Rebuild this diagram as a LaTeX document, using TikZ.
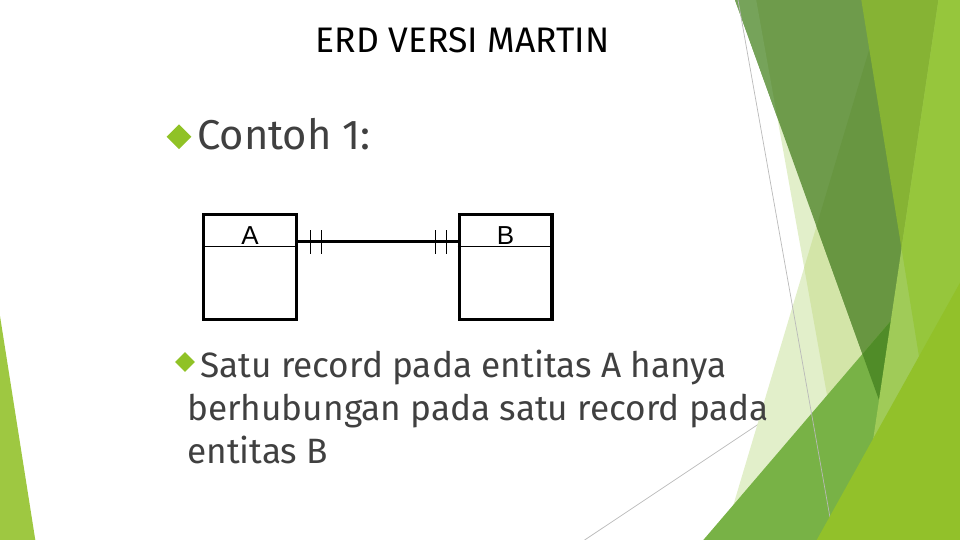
\documentclass[tikz,border=0pt]{standalone}
\usepackage{fontspec}
\setmainfont{Fira Sans}
\newfontfamily\arialfont{Liberation Sans}
\usetikzlibrary{shapes.geometric,calc}
\definecolor{txt}{RGB}{64,64,64}
\definecolor{accentone}{RGB}{144,194,38}
\definecolor{pale}{RGB}{226,239,202}
\definecolor{paleboth}{RGB}{211,229,168}
\definecolor{dlight}{RGB}{118,163,90}
\definecolor{dmain}{RGB}{110,155,75}
\definecolor{ddark}{RGB}{104,150,65}
\definecolor{tipdark}{RGB}{80,140,40}
\definecolor{band}{RGB}{120,178,70}
\definecolor{rtwonine}{RGB}{134,179,52}
\definecolor{rtwoeight}{RGB}{160,203,88}
\definecolor{rboth}{RGB}{150,198,60}
\definecolor{tten}{RGB}{146,193,42}
\definecolor{lefttri}{RGB}{158,200,65}
\definecolor{thinline}{RGB}{185,185,185}
\begin{document}
\begin{tikzpicture}[x=1pt,y=-1pt,
  titletext/.style={anchor=base,inner sep=0pt,text=black,font=\fontsize{35.5}{42}\selectfont},
  headtext/.style={anchor=base west,inner sep=0pt,text=txt,font=\fontsize{41.7}{50}\selectfont},
  bodytext/.style={anchor=base west,inner sep=0pt,text=txt,font=\fontsize{35.2}{43}\selectfont},
  bulletmark/.style={diamond,aspect=1,fill=accentone,inner sep=0pt,draw=none},
  entity/.style={draw=black,line width=3.3pt,minimum width=92.7pt,minimum height=104.8pt,inner sep=0pt},
  entlabel/.style={inner sep=0pt,font=\arialfont\fontsize{26}{30}\selectfont},
  divider/.style={draw=black,line width=1pt},
  relline/.style={draw=black,line width=2.7pt},
  tick/.style={draw=black,line width=1.2pt},
  deco/.style={draw=thinline,line width=0.7pt}
]
\useasboundingbox (0,0) rectangle (960,540);
% ---- decorative facets ----
\draw[deco] (584.6,540) -- (960,289.9);
\fill[pale] (756.2,0) -- (960,0) -- (960,540) -- (853,540) -- cycle;
\fill[pale] (884,0) -- (960,0) -- (960,540) -- (722.9,540) -- cycle;
\begin{scope}
  \clip (884,0) -- (960,0) -- (960,540) -- (722.9,540) -- cycle;
  \fill[paleboth] (756.2,0) -- (960,0) -- (960,540) -- (853,540) -- cycle;
\end{scope}
\fill[dmain] (735,0) -- (960,0) -- (960,540) -- (929.4,540) -- cycle;
\begin{scope}
  \clip (735,0) -- (960,0) -- (960,540) -- (929.4,540) -- cycle;
  \fill[dlight] (700,0) -- (756.2,0) -- (853,540) -- (700,540) -- cycle;
  \clip (884,0) -- (960,0) -- (960,540) -- (722.9,540) -- cycle;
  \fill[ddark] (756.2,0) -- (960,0) -- (960,540) -- (853,540) -- cycle;
\end{scope}
\fill[band] (703.3,540) -- (960,240) -- (960,540) -- cycle;
\begin{scope}
  \clip (703.3,540) -- (960,240) -- (960,540) -- cycle;
  \fill[tipdark] (735,0) -- (960,0) -- (960,540) -- (929.4,540) -- cycle;
\end{scope}
\draw[deco] (738,0) -- (834,540);
\fill[rtwonine] (861.3,0) -- (960,0) -- (960,540) -- (948.7,540) -- cycle;
\fill[rtwoeight] (938.5,0) -- (960,0) -- (960,540) -- (858.2,540) -- cycle;
\begin{scope}
  \clip (938.5,0) -- (960,0) -- (960,540) -- (858.2,540) -- cycle;
  \fill[rboth] (861.3,0) -- (960,0) -- (960,540) -- (948.7,540) -- cycle;
\end{scope}
\fill[tten] (816.7,540) -- (960,282.7) -- (960,540) -- cycle;
\fill[lefttri] (0,316) -- (35.3,540) -- (0,540) -- cycle;
% ---- title ----
\node[titletext] (title) at (462.5,53) {ERD VERSI MARTIN};
% ---- first bullet ----
\node[bulletmark,minimum size=25pt] (b1) at (179,136.7) {};
\node[headtext] (contoh) at (197,149.3) {Contoh 1:};
% ---- ERD ----
\node[entity] (A) at (250,267) {};
\node[entity] (B) at (505.5,267) {};
\draw[divider] ([yshift=-33.6pt]A.north west) -- ([yshift=-33.6pt]A.north east);
\draw[divider] ([yshift=-33.6pt]B.north west) -- ([yshift=-33.6pt]B.north east);
\node[entlabel] (la) at (250,236) {A};
\node[entlabel] (lb) at (505.5,236) {B};
\coordinate (ca) at ([yshift=25.5pt]A.east);
\coordinate (cb) at ([yshift=25.5pt]B.west);
\draw[relline] (ca) -- (cb);
\draw[tick] ($(ca)+(12.5,-11.5)$) -- ($(ca)+(12.5,12.5)$);
\draw[tick] ($(ca)+(23.3,-11.5)$) -- ($(ca)+(23.3,12.5)$);
\draw[tick] ($(cb)+(-21.7,-11.5)$) -- ($(cb)+(-21.7,12.5)$);
\draw[tick] ($(cb)+(-10.7,-11.5)$) -- ($(cb)+(-10.7,12.5)$);
% ---- second bullet ----
\node[bulletmark,minimum size=20pt] (b2) at (185,362) {};
\node[bodytext] (l1) at (200,377) {Satu record pada entitas A hanya};
\node[bodytext] (l2) at (187,420) {berhubungan pada satu record pada};
\node[bodytext] (l3) at (187,463) {entitas B};
\end{tikzpicture}
\end{document}
